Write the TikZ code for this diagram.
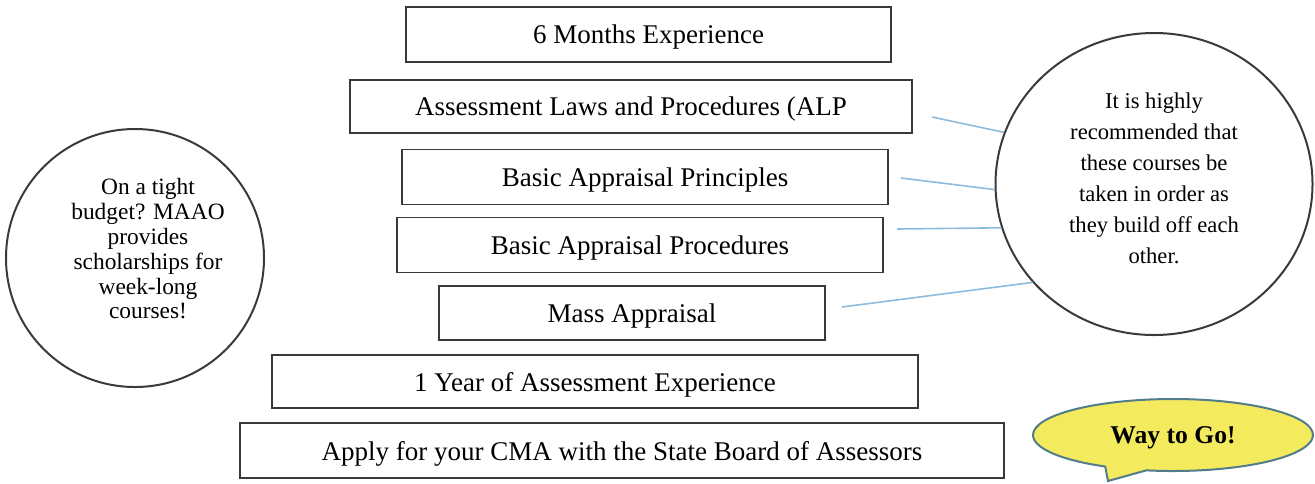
\documentclass[tikz,border=0pt]{standalone}
\usepackage{fontspec}
\setmainfont{Liberation Serif}
\usetikzlibrary{shapes.geometric,shapes.callouts}
\definecolor{boxline}{HTML}{3A3A3A}
\definecolor{linkblue}{HTML}{8DBBDD}
\definecolor{calloutfill}{HTML}{F3EA5E}
\definecolor{calloutline}{HTML}{527C8A}
\begin{document}
\begin{tikzpicture}[x=0.5pt,y=-0.5pt,
  stepbox/.style={draw=boxline, line width=0.9pt, rectangle, inner sep=0pt,
    text depth=0pt, font=\fontsize{13.5}{16}\selectfont},
  bubble/.style={draw=boxline, line width=1pt, inner sep=0pt},
  notetext/.style={align=center, inner sep=0pt},
  link/.style={draw=linkblue, line width=0.8pt},
]
\useasboundingbox (0,0) rectangle (1315,483);

% course ladder, top to bottom
\node[stepbox, minimum width=242.5pt, minimum height=27.5pt] (six)   at (648.5,34.5) {6 Months Experience};
\node[stepbox, minimum width=281pt,   minimum height=26.5pt] (alp)   at (631,106.5)  {Assessment Laws and Procedures (ALP};
\node[stepbox, minimum width=243pt,   minimum height=27.5pt] (princ) at (645,177)    {Basic Appraisal Principles};
\node[stepbox, minimum width=243pt,   minimum height=27.5pt] (proc)  at (640,245)    {Basic Appraisal Procedures};
\node[stepbox, minimum width=193pt,   minimum height=27pt]   (mass)  at (632,313)    {Mass Appraisal};
\node[stepbox, minimum width=323pt,   minimum height=26.5pt] (year)  at (595,381.5)  {1 Year of Assessment Experience};
\node[stepbox, minimum width=382pt,   minimum height=27.5pt] (apply) at (622,450.5)  {Apply for your CMA with the State Board of Assessors};

% note on course order
\node[bubble, ellipse, minimum width=158.5pt, minimum height=151pt] (order) at (1154,184) {};
\node[notetext, font=\fontsize{11.3}{15.5}\selectfont] (ordertext) at (1154,178)
  {It is highly\\recommended that\\these courses be\\taken in order as\\they build off each\\other.};

% scholarship note
\node[bubble, circle, minimum size=129pt] (budget) at (135,258) {};
\node[notetext, font=\fontsize{11.7}{12.4}\selectfont] (budgettext) at (148,249)
  {On a tight\\budget? MAAO\\provides\\scholarships for\\week-long\\courses!};

% connectors from the courses to the note
\coordinate (l1) at (932,117);
\coordinate (l2) at (901,178);
\coordinate (l3) at (897,229);
\coordinate (l4) at (842,307);
\draw[link] (l1) -- (order.161);
\draw[link] (l2) -- (order.182);
\draw[link] (l3) -- (order.196);
\draw[link] (l4) -- (order.219);

% final callout
\node[ellipse callout, draw=calloutline, fill=calloutfill, line width=1pt,
  minimum width=140pt, minimum height=36pt, callout pointer arc=18,
  callout absolute pointer={(1108,481)}, text depth=0pt,
  font=\bfseries\fontsize{12.8}{15}\selectfont] (cheer) at (1173,435) {Way to Go!};
\end{tikzpicture}
\end{document}
